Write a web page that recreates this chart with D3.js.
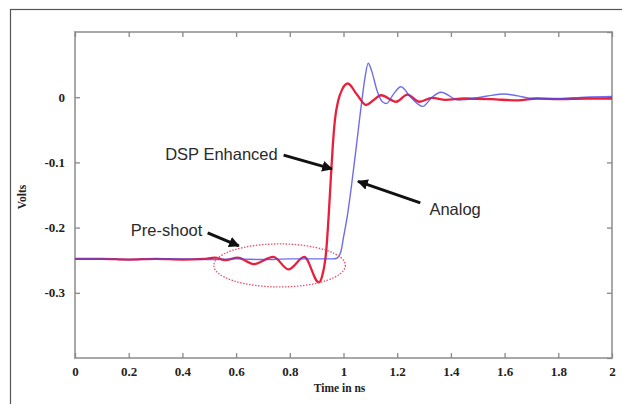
<!DOCTYPE html>
<html>
<head>
<meta charset="utf-8">
<script src="https://cdn.jsdelivr.net/npm/d3@7"></script>
<style>
  body { margin: 0; background: #fff; }
  svg { display: block; }
</style>
</head>
<body>
<div id="chart"></div>
<script>
// Time axis ticks (ns) and volt ticks
var xTicks = [0, 0.2, 0.4, 0.6, 0.8, 1, 1.2, 1.4, 1.6, 1.8, 2];
var yTicks = [0.1, 0, -0.1, -0.2, -0.3, -0.4];
var yLabels = [0, -0.1, -0.2, -0.3];

// Analog response (blue)
var analogT = [0, 0.1, 0.2, 0.3, 0.4, 0.5, 0.6, 0.7, 0.8, 0.9, 0.96, 0.975, 0.99, 1.0, 1.015, 1.03, 1.045, 1.058, 1.07, 1.08, 1.092, 1.105, 1.125, 1.145, 1.16, 1.185, 1.214, 1.25, 1.295, 1.33, 1.363, 1.43, 1.53, 1.6, 1.65, 1.7, 1.8, 1.9, 2.0];
var analogV = [-0.248, -0.248, -0.249, -0.248, -0.248, -0.249, -0.248, -0.249, -0.248, -0.248, -0.248, -0.247, -0.237, -0.215, -0.18, -0.135, -0.085, -0.04, 0.0, 0.03, 0.052, 0.04, 0.01, -0.007, -0.0097, 0.004, 0.016, 0.0, -0.014, 0.0, 0.0075, -0.0045, 0.0015, 0.005, 0.002, -0.002, -0.002, 0.0, 0.001];

// DSP enhanced response (red)
var dspT = [0, 0.1, 0.2, 0.3, 0.4, 0.48, 0.52, 0.56, 0.606, 0.665, 0.739, 0.795, 0.854, 0.908, 0.92, 0.936, 0.945, 0.952, 0.96, 0.968, 0.98, 0.995, 1.016, 1.05, 1.084, 1.11, 1.14, 1.196, 1.238, 1.283, 1.33, 1.38, 1.45, 1.55, 1.65, 1.72, 1.8, 1.9, 2.0];
var dspV = [-0.248, -0.248, -0.249, -0.248, -0.249, -0.248, -0.246, -0.250, -0.246, -0.256, -0.245, -0.264, -0.245, -0.284, -0.275, -0.234, -0.18, -0.13, -0.075, -0.035, -0.006, 0.012, 0.021, 0.004, -0.012, -0.005, 0.003, -0.007, 0.004, -0.007, -0.001, -0.004, -0.002, -0.003, -0.005, -0.002, -0.003, -0.002, -0.002];

// Annotations in data units
var notes = [
  {text: "DSP Enhanced", t: 0.755, v: -0.0965, anchor: "end", from: [0.777, -0.0888], to: [0.957, -0.110]},
  {text: "Analog", t: 1.32, v: -0.181, anchor: "start", from: [1.286, -0.162], to: [1.054, -0.129]},
  {text: "Pre-shoot", t: 0.208, v: -0.2136, anchor: "start", from: [0.494, -0.208], to: [0.61, -0.228]}
];
var ellipse = {t: 0.762, v: -0.258, rt: 0.245, rv: 0.033};

var W = 622, H = 404;
var margin = {top: 32, right: 10, bottom: 46, left: 75};
var width = W - margin.left - margin.right,
    height = H - margin.top - margin.bottom;

var svg = d3.select("#chart").append("svg")
    .attr("width", W)
    .attr("height", H);

// outer frame of the figure
svg.append("rect")
    .attr("x", 10.5).attr("y", 9.5)
    .attr("width", 700).attr("height", 500)
    .attr("fill", "none")
    .attr("stroke", "#555")
    .attr("stroke-width", 1.2);

var g = svg.append("g")
    .attr("transform", "translate(" + margin.left + "," + margin.top + ")");

var x = d3.scaleLinear().domain([0, 2]).range([0, width]);
var y = d3.scaleLinear().domain([-0.4, 0.1]).range([height, 0]);

// plot box
g.append("rect")
    .attr("width", width).attr("height", height)
    .attr("fill", "none")
    .attr("stroke", "#a8a8a8")
    .attr("stroke-width", 2);

var tickFmt = function(d) { return d == 0 ? "0" : String(d); };

// bottom and left axes, ticks pointing inward
g.append("g")
    .attr("transform", "translate(0," + height + ")")
    .call(d3.axisBottom(x).tickValues(xTicks).tickSizeInner(-5).tickSizeOuter(0).tickPadding(9).tickFormat(tickFmt));
g.append("g")
    .call(d3.axisLeft(y).tickValues(yLabels).tickSizeInner(-5).tickSizeOuter(0).tickPadding(10).tickFormat(tickFmt));
// mirrored ticks on top and right
g.append("g")
    .call(d3.axisTop(x).tickValues(xTicks).tickSizeInner(-5).tickSizeOuter(0).tickFormat(""));
g.append("g")
    .attr("transform", "translate(" + width + ",0)")
    .call(d3.axisRight(y).tickValues(yTicks).tickSizeInner(-5).tickSizeOuter(0).tickFormat(""));

g.selectAll(".domain").remove();
g.selectAll(".tick line").attr("stroke", "#888").attr("stroke-width", 1.3);
g.selectAll(".tick text")
    .attr("fill", "#222")
    .style("font-family", "'Liberation Serif', 'DejaVu Serif', serif")
    .style("font-weight", "bold")
    .style("font-size", "13px");

// axis titles
g.append("text")
    .attr("x", width / 2 - 4)
    .attr("y", height + 34)
    .attr("text-anchor", "middle")
    .attr("fill", "#222")
    .style("font-family", "'Liberation Serif', serif")
    .style("font-weight", "bold")
    .style("font-size", "11.5px")
    .text("Time in ns");
g.append("text")
    .attr("transform", "rotate(-90)")
    .attr("x", -(y(-0.153)))
    .attr("y", -49)
    .attr("text-anchor", "middle")
    .attr("fill", "#222")
    .style("font-family", "'Liberation Serif', serif")
    .style("font-weight", "bold")
    .style("font-size", "11.5px")
    .text("Volts");

var line = d3.line()
    .x(function(d) { return x(d[0]); })
    .y(function(d) { return y(d[1]); })
    .curve(d3.curveMonotoneX);

var dsp = dspT.map(function(t, i) { return [t, dspV[i]]; });
var analog = analogT.map(function(t, i) { return [t, analogV[i]]; });

g.append("path")
    .attr("d", line(dsp))
    .attr("fill", "none")
    .attr("stroke", "#e8203c")
    .attr("stroke-width", 2.3);

g.append("path")
    .attr("d", line(analog))
    .attr("fill", "none")
    .attr("stroke", "#4848e6")
    .attr("stroke-opacity", 0.8)
    .attr("stroke-width", 1.4);

// dotted ellipse round the pre-shoot
g.append("ellipse")
    .attr("cx", x(ellipse.t))
    .attr("cy", y(ellipse.v))
    .attr("rx", x(ellipse.rt) - x(0))
    .attr("ry", y(0) - y(ellipse.rv))
    .attr("fill", "none")
    .attr("stroke", "#e8506a")
    .attr("stroke-width", 1.3)
    .attr("stroke-dasharray", "1.5,1.5");

// arrow head
svg.append("defs").append("marker")
    .attr("id", "head")
    .attr("viewBox", "0 0 10 10")
    .attr("refX", 9).attr("refY", 5)
    .attr("markerWidth", 3.6).attr("markerHeight", 3.6)
    .attr("orient", "auto")
    .append("path")
    .attr("d", "M0,0 L10,5 L0,10 z")
    .attr("fill", "#111");

notes.forEach(function(n) {
    g.append("text")
        .attr("x", x(n.t))
        .attr("y", y(n.v))
        .attr("text-anchor", n.anchor)
        .attr("fill", "#2a2a2a")
        .style("font-family", "'Liberation Sans', Arial, sans-serif")
        .style("font-size", "16.5px")
        .text(n.text);
    g.append("line")
        .attr("x1", x(n.from[0])).attr("y1", y(n.from[1]))
        .attr("x2", x(n.to[0])).attr("y2", y(n.to[1]))
        .attr("stroke", "#111")
        .attr("stroke-width", 3)
        .attr("marker-end", "url(#head)");
});
</script>
</body>
</html>
